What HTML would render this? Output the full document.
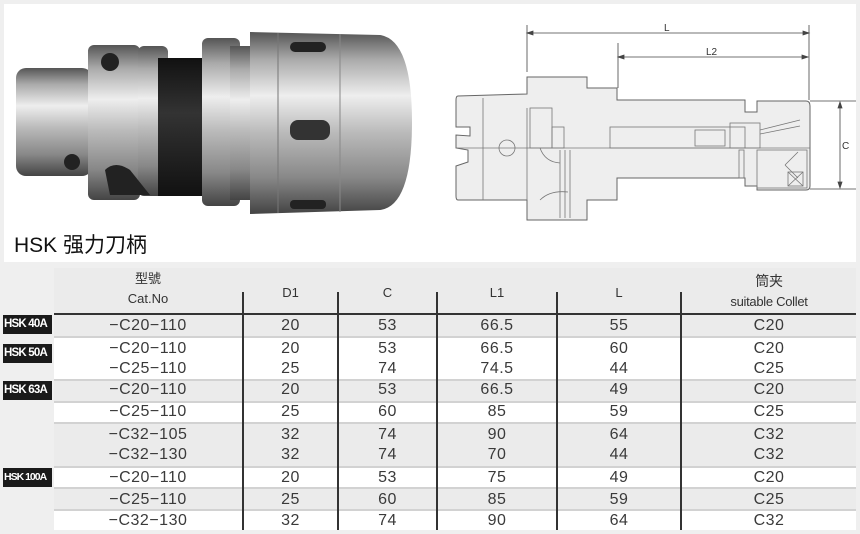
<!DOCTYPE html>
<html><head><meta charset="utf-8"><style>
body{margin:0;width:860px;height:534px;background:#efefef;position:relative;overflow:hidden;font-family:"Liberation Sans","Noto Sans CJK SC",sans-serif;color:#333}
.abs{position:absolute}
.row{position:absolute;left:54px;width:802px}
.g{background:#ebebeb}.w{background:#fff}
.sep{position:absolute;left:54px;width:802px;height:2px;background:#d2d2d2}
.vl{position:absolute;width:2px;background:#333;top:292px;height:238px}
.r{position:absolute;left:0;width:860px;height:20px;font-size:16px;line-height:20px;color:#3a3a3a;letter-spacing:0.5px}
.r span{position:absolute;text-align:center;top:0}
.a{left:54px;width:188px}.b{left:244px;width:93px}.cc{left:339px;width:97px}.d{left:438px;width:118px}.e{left:558px;width:122px}.f{left:682px;width:174px}
.c{position:absolute;text-align:center;font-size:13px;line-height:20px}
.lab{position:absolute;left:3px;width:49px;background:#1a1a1a;color:#fff;font-weight:bold;font-size:11.5px;line-height:19px;letter-spacing:-0.8px;white-space:nowrap;overflow:hidden;text-indent:1px}
</style></head><body>
<div class="abs" style="left:4px;top:4px;width:852px;height:258px;background:#fff"></div>
<svg class="abs" style="left:0;top:0" width="860" height="265">
<defs>
<linearGradient id="m" x1="0" y1="0" x2="0" y2="1">
<stop offset="0" stop-color="#555"/><stop offset="0.15" stop-color="#aaa"/><stop offset="0.35" stop-color="#eee"/><stop offset="0.55" stop-color="#bbb"/><stop offset="0.8" stop-color="#888"/><stop offset="1" stop-color="#444"/></linearGradient>
<linearGradient id="d" x1="0" y1="0" x2="0" y2="1"><stop offset="0" stop-color="#111"/><stop offset="0.4" stop-color="#333"/><stop offset="1" stop-color="#111"/></linearGradient>
</defs>
<rect x="16" y="68" width="76" height="108" rx="10" fill="url(#m)"/>
<rect x="88" y="45" width="52" height="155" rx="6" fill="url(#m)"/>
<rect x="138" y="46" width="30" height="150" rx="6" fill="url(#m)"/>
<rect x="158" y="58" width="48" height="138" fill="url(#d)"/>
<rect x="202" y="38" width="38" height="168" rx="6" fill="url(#m)"/>
<rect x="230" y="46" width="22" height="154" fill="url(#m)"/>
<path d="M250 32 L380 35 Q412 40 412 122 Q412 206 380 210 L250 214 Z" fill="url(#m)"/>
<line x1="278" y1="33" x2="278" y2="213" stroke="#777"/>
<line x1="340" y1="34" x2="340" y2="212" stroke="#888"/>
<rect x="290" y="42" width="36" height="10" rx="5" fill="#222"/>
<rect x="290" y="120" width="40" height="20" rx="8" fill="#333"/>
<rect x="290" y="200" width="36" height="9" rx="4" fill="#222"/>
<circle cx="110" cy="62" r="9" fill="#222"/>
<circle cx="72" cy="162" r="8" fill="#222"/>
<path d="M105 170 Q115 160 130 170 L150 195 L110 195 Z" fill="#222"/>
<g stroke="#666" stroke-width="1" fill="#eee">
<path d="M458 96 L527 94 L527 77 L587 77 L587 88 L617 88 L617 100 L745 100 L745 112 L757 112 L757 101 L806 101 Q810 101 810 106 L810 186 Q810 190 806 190 L757 190 L757 186 L745 186 L745 178 L617 178 L617 200 L587 200 L587 220 L527 220 L527 200 L458 200 Q456 200 456 196 L456 166 L468 162 L468 150 L456 148 L456 135 L470 136 L470 127 L456 127 L456 100 Q456 96 458 96 Z"/>
</g>
<g stroke="#777" stroke-width="0.8" fill="none">
<line x1="456" y1="148" x2="810" y2="148"/>
<line x1="483" y1="98" x2="483" y2="200"/>
<line x1="527" y1="108" x2="527" y2="200"/>
<rect x="530" y="108" width="22" height="40"/>
<rect x="552" y="127" width="12" height="21"/>
<rect x="610" y="127" width="135" height="21"/>
<rect x="695" y="130" width="30" height="16"/>
<rect x="730" y="123" width="30" height="25"/>
<line x1="760" y1="130" x2="800" y2="120"/><line x1="760" y1="134" x2="800" y2="126"/>
<circle cx="507" cy="148" r="8"/>
<path d="M540 148 Q545 162 560 163"/>
<line x1="560" y1="150" x2="560" y2="218"/><line x1="565" y1="150" x2="565" y2="218"/><line x1="570" y1="150" x2="570" y2="218"/>
<path d="M540 200 Q550 190 568 192"/>
<rect x="757" y="150" width="50" height="38"/>
<path d="M785 165 L798 152 M785 165 L798 178 M788 172 L803 186 M803 172 L788 186"/>
<rect x="788" y="172" width="15" height="14"/>
<rect x="739" y="150" width="5" height="28"/>
</g>
<g stroke="#444" stroke-width="0.8" fill="#444">
<line x1="527" y1="25" x2="527" y2="72"/><line x1="809" y1="25" x2="809" y2="100"/>
<line x1="532" y1="33" x2="804" y2="33"/>
<path d="M527 33 l6 -2 v4z M809 33 l-6 -2 v4z"/>
<line x1="618" y1="43" x2="618" y2="88"/>
<line x1="623" y1="57" x2="804" y2="57"/>
<path d="M618 57 l6 -2 v4z M808 57 l-6 -2 v4z"/>
<line x1="810" y1="101" x2="856" y2="101"/><line x1="810" y1="189" x2="856" y2="189"/>
<line x1="840" y1="107" x2="840" y2="183"/>
<path d="M840 102 l-2 6 h4z M840 188 l-2 -6 h4z"/>
</g>
<g font-family="Liberation Sans,sans-serif" font-size="10" fill="#333">
<text x="664" y="31">L</text><text x="706" y="55">L2</text><text x="842" y="149">C</text>
</g>
</svg>
<div class="abs" style="left:14px;top:229px;font-size:21px;color:#111">HSK 强力刀柄</div>

<div class="row g" style="top:268px;height:46px"></div>
<div class="abs" style="left:54px;top:313px;width:802px;height:2px;background:#333"></div>
<div class="row g" style="top:315px;height:22px"></div>
<div class="row w" style="top:337px;height:43px"></div>
<div class="row g" style="top:380px;height:22px"></div>
<div class="row w" style="top:402px;height:21px"></div>
<div class="row g" style="top:423px;height:44px"></div>
<div class="row w" style="top:467px;height:21px"></div>
<div class="row g" style="top:488px;height:22px"></div>
<div class="row w" style="top:510px;height:20px"></div>
<div class="sep" style="top:336px"></div><div class="sep" style="top:379px"></div><div class="sep" style="top:401px"></div><div class="sep" style="top:422px"></div><div class="sep" style="top:466px"></div><div class="sep" style="top:487px"></div><div class="sep" style="top:509px"></div>
<div class="vl" style="left:242px"></div><div class="vl" style="left:337px"></div><div class="vl" style="left:436px"></div><div class="vl" style="left:556px"></div><div class="vl" style="left:680px"></div>

<div class="c" style="left:54px;width:188px;top:269px">型號<br>Cat.No</div>
<div class="c" style="left:244px;width:93px;top:283px">D1</div>
<div class="c" style="left:339px;width:97px;top:283px">C</div>
<div class="c" style="left:438px;width:118px;top:283px">L1</div>
<div class="c" style="left:558px;width:122px;top:283px">L</div>
<div class="c" style="left:682px;width:174px;top:271px;letter-spacing:-0.3px"><span style="font-size:14px">筒夹</span><br>suitable Collet</div>

<div class="r" style="top:316px"><span class="a">−C20−110</span><span class="b">20</span><span class="cc">53</span><span class="d">66.5</span><span class="e">55</span><span class="f">C20</span></div>
<div class="r" style="top:339px"><span class="a">−C20−110</span><span class="b">20</span><span class="cc">53</span><span class="d">66.5</span><span class="e">60</span><span class="f">C20</span></div>
<div class="r" style="top:359px"><span class="a">−C25−110</span><span class="b">25</span><span class="cc">74</span><span class="d">74.5</span><span class="e">44</span><span class="f">C25</span></div>
<div class="r" style="top:380px"><span class="a">−C20−110</span><span class="b">20</span><span class="cc">53</span><span class="d">66.5</span><span class="e">49</span><span class="f">C20</span></div>
<div class="r" style="top:402px"><span class="a">−C25−110</span><span class="b">25</span><span class="cc">60</span><span class="d">85</span><span class="e">59</span><span class="f">C25</span></div>
<div class="r" style="top:425px"><span class="a">−C32−105</span><span class="b">32</span><span class="cc">74</span><span class="d">90</span><span class="e">64</span><span class="f">C32</span></div>
<div class="r" style="top:445px"><span class="a">−C32−130</span><span class="b">32</span><span class="cc">74</span><span class="d">70</span><span class="e">44</span><span class="f">C32</span></div>
<div class="r" style="top:468px"><span class="a">−C20−110</span><span class="b">20</span><span class="cc">53</span><span class="d">75</span><span class="e">49</span><span class="f">C20</span></div>
<div class="r" style="top:490px"><span class="a">−C25−110</span><span class="b">25</span><span class="cc">60</span><span class="d">85</span><span class="e">59</span><span class="f">C25</span></div>
<div class="r" style="top:511px"><span class="a">−C32−130</span><span class="b">32</span><span class="cc">74</span><span class="d">90</span><span class="e">64</span><span class="f">C32</span></div>

<div class="lab" style="top:315px">HSK 40A</div>
<div class="lab" style="top:344px">HSK 50A</div>
<div class="lab" style="top:381px">HSK 63A</div>
<div class="lab" style="top:468px;font-size:10.5px;letter-spacing:-1px">HSK 100A</div>
</body></html>
